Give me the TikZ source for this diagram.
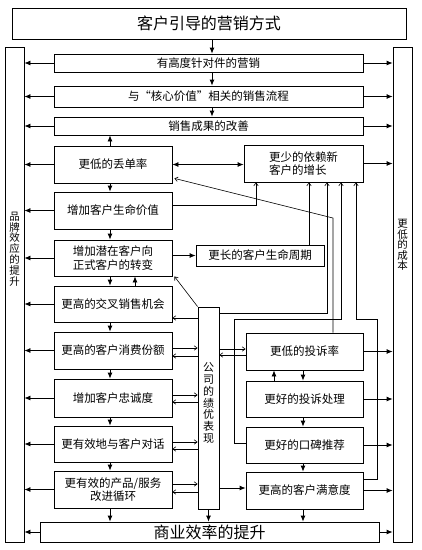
\documentclass[tikz,border=0pt]{standalone}
\usepackage{fontspec}
\setmainfont{Noto Sans CJK SC}
\usetikzlibrary{arrows.meta,backgrounds}
\begin{document}
\begin{tikzpicture}[x=1pt,y=-1pt,
  box/.style={draw, line width=0.8pt, fill=white, inner sep=0pt, font=\fontsize{11.5}{13.5}\selectfont},
  ar/.style={-{Latex[length=6pt,width=5pt]}, line width=0.8pt},
  dar/.style={{Latex[length=6pt,width=5pt]}-{Latex[length=6pt,width=5pt]}, line width=0.8pt},
  tar/.style={-{Straight Barb[length=3pt,width=4.5pt]}, line width=0.6pt},
  dtar/.style={{Straight Barb[length=3pt,width=4.5pt]}-{Straight Barb[length=3pt,width=4.5pt]}, line width=0.6pt},
  ln/.style={line width=0.8pt},
  vtext/.style={align=center, inner sep=0pt}]
\useasboundingbox[fill=white] (0,0) rectangle (422,550);

% title and side bars
\node[box, minimum width=394pt, minimum height=31pt, font=\fontsize{16}{18}\selectfont] (title) at (209,23.5) {客户引导的营销方式};
\node[box, minimum width=19pt, minimum height=495pt] (leftbar) at (14.5,294.5) {};
\node[box, minimum width=19pt, minimum height=495pt] (rightbar) at (402.5,294.5) {};
\node[vtext, font=\fontsize{10.5}{10.8}\selectfont] (lbt) at (14.5,249) {品\\牌\\效\\应\\的\\提\\升};
\node[vtext, font=\fontsize{10.5}{10.5}\selectfont] (rbt) at (402.5,245) {更\\低\\的\\成\\本};

% top wide boxes
\node[box, minimum width=309pt, minimum height=18pt] (b1) at (208.5,63) {有高度针对件的营销};
\node[box, minimum width=309pt, minimum height=21pt] (b2) at (208.5,96.5) {与“核心价值”相关的销售流程};
\node[box, minimum width=309pt, minimum height=18pt] (b3) at (208.5,126) {销售成果的改善};

% left column
\node[box, minimum width=118pt, minimum height=37pt] (L1) at (113,164.5) {更低的丢单率};
\node[box, minimum width=118pt, minimum height=37pt] (L2) at (113,210.5) {增加客户生命价值};
\node[box, minimum width=118pt, minimum height=36pt, align=center] (L3) at (113,258) {增加潜在客户向\\正式客户的转变};
\node[box, minimum width=118pt, minimum height=36pt] (L4) at (113,304) {更高的交叉销售机会};
\node[box, minimum width=118pt, minimum height=37pt] (L5) at (113,350.5) {更高的客户消费份额};
\node[box, minimum width=118pt, minimum height=38pt] (L6) at (113,398) {增加客户忠诚度};
\node[box, minimum width=118pt, minimum height=36pt] (L7) at (113,444) {更有效地与客户对话};
\node[box, minimum width=118pt, minimum height=37pt, align=center] (L8) at (113,489.5) {更有效的产品/服务\\改进循环};

% right column
\node[box, minimum width=119pt, minimum height=37pt, align=left] (R1) at (303.5,163.5) {更少的依赖新\\客户的增长};
\node[box, minimum width=128pt, minimum height=21pt] (life) at (260,255.5) {更长的客户生命周期};
\node[box, minimum width=117pt, minimum height=37pt] (R2) at (304.5,351.5) {更低的投诉率};
\node[box, minimum width=117pt, minimum height=36pt] (R3) at (304.5,399) {更好的投诉处理};
\node[box, minimum width=117pt, minimum height=36pt] (R4) at (304.5,445) {更好的口碑推荐};
\node[box, minimum width=117pt, minimum height=37pt] (R5) at (304.5,490.5) {更高的客户满意度};

% performance box
\node[box, minimum width=21pt, minimum height=202pt] (perf) at (208.5,408) {};
\node[vtext, font=\fontsize{11}{11.9}\selectfont] (perft) at (208.5,403) {公\\司\\的\\绩\\优\\表\\现};

% bottom box
\node[box, minimum width=339pt, minimum height=20pt, font=\fontsize{16}{18}\selectfont] (bot) at (209.5,532) {商业效率的提升};

% thin line across, behind the performance box
\begin{pgfonlayer}{background}
\draw[dtar] (leftbar.east |- 0,328) -- (rightbar.west |- 0,328);
\end{pgfonlayer}

% top chain
\draw[ar] (title.south -| 212,0) -- (b1.north -| 212,0);
\draw[ar] (b1.south -| 212,0) -- (b2.north -| 212,0);
\draw[ar] (b2.south -| 212,0) -- (b3.north -| 212,0);
\draw[ar] (L1.north -| 110,0) -- (b3.south -| 110,0);

% left column chain
\draw[ar] (L1.south -| 110,0) -- (L2.north -| 110,0);
\draw[ar] (L2.south -| 110,0) -- (L3.north -| 110,0);
\draw[ar] (L3.south -| 110,0) -- (L4.north -| 110,0);
\draw[ar] (L4.north -| 135,0) -- (L3.south -| 135,0);
\draw[ar] (L4.south -| 110,0) -- (L5.north -| 110,0);
\draw[ar] (L5.south -| 110,0) -- (L6.north -| 110,0);
\draw[ar] (L6.south -| 110,0) -- (L7.north -| 110,0);
\draw[ar] (L7.south -| 110,0) -- (L8.north -| 110,0);
\draw[ar] (L8.south -| 110,0) -- (bot.north -| 110,0);

% arrows to the left bar
\foreach \n in {b1,b2,b3,L1,L2,L3,L4,L5,L6,L7,L8,bot}
  \draw[ar] (\n.west) -- (leftbar.east |- \n.west);
% arrows to the right bar
\foreach \n in {b1,b2,b3,R1,R2,R3,R4,R5,bot}
  \draw[ar] (\n.east) -- (rightbar.west |- \n.east);

% middle connections
\draw[dar] (L1.east) -- (R1.west |- L1.east);
\draw[tar] (L2.east |- 0,205) -| (R1.south -| 256,0);
\draw[ar] (L3.east |- life.west) -- (life.west);
\draw[tar] (life.north -| 309,0) -- (R1.south -| 309,0);
\draw[tar] (perf.east |- 0,313) -| (R1.south -| 327,0);
\coordinate (k1) at (333,218);
\draw[tar] (R2.north -| k1) -- (k1) -- ([xshift=2pt,yshift=5pt]L1.south east);
\coordinate (k2) at (234,319);
\draw[tar] (R4.west |- 0,443) -| (k2) -| (R1.south -| 341,0);
\coordinate (k3) at (377,319);
\draw[tar] (R5.east |- 0,479) -| (k3) -| (R1.south -| 356,0);

% performance box links
\draw[tar] (perf.north west) -- ([xshift=2pt]L3.south east);
\draw[tar] (perf.west |- 0,318) -- (L4.east |- 0,318);
\draw[tar] (L5.east |- 0,348) -- (perf.west |- 0,348);
\draw[tar] (perf.west |- 0,356) -- (L5.east |- 0,356);
\draw[tar] (L6.east |- 0,395) -- (perf.west |- 0,395);
\draw[tar] (perf.west |- 0,402) -- (L6.east |- 0,402);
\draw[tar] (L7.east |- 0,442) -- (perf.west |- 0,442);
\draw[tar] (perf.west |- 0,449) -- (L7.east |- 0,449);
\draw[tar] (L8.east |- 0,484) -- (perf.west |- 0,484);
\draw[tar] (perf.west |- 0,492) -- (L8.east |- 0,492);
\draw[tar] (perf.east |- 0,349) -- (R2.west |- 0,349);
\draw[tar] (R2.west |- 0,355) -- (perf.east |- 0,355);
\draw[ar] (perf.east |- 0,488) -- (R5.west |- 0,488);
\draw[ar] (perf.south) -- (bot.north -| perf.south);

% right column chain
\draw[ar] (R2.south -| 303,0) -- (R3.north -| 303,0);
\draw[ar] (R3.north -| 274,0) -- (R2.south -| 274,0);
\draw[ar] (R3.south -| 303,0) -- (R4.north -| 303,0);
\draw[ar] (R4.south -| 303,0) -- (R5.north -| 303,0);
\draw[ar] (R5.south -| 303,0) -- (bot.north -| 303,0);
\end{tikzpicture}
\end{document}
